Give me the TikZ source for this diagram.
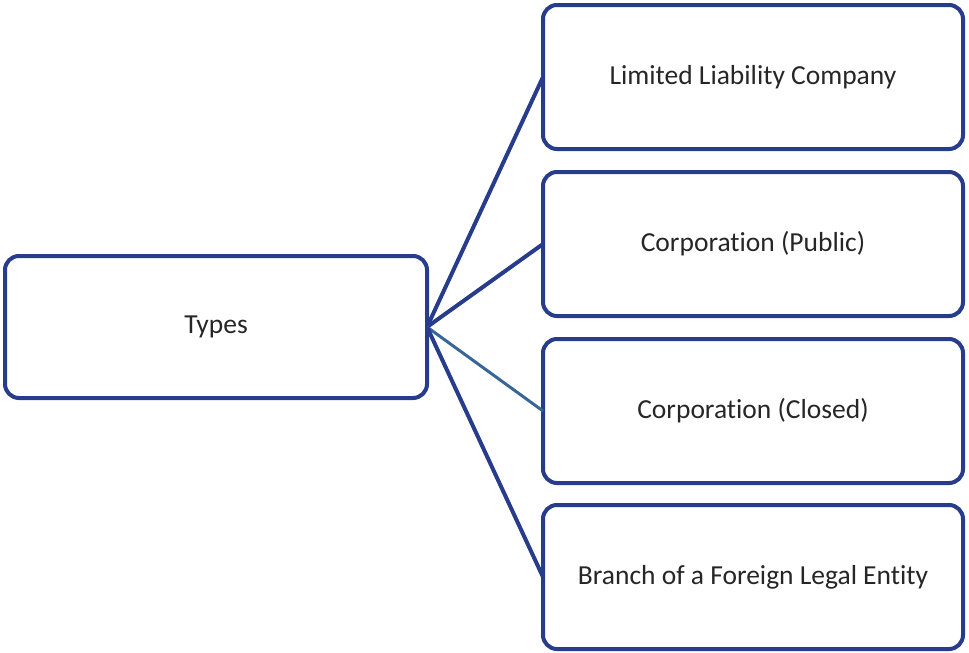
\documentclass[tikz,border=0pt]{standalone}
\usepackage{fontspec}
\setmainfont[Ligatures={NoCommon}]{Carlito}
\definecolor{navy}{RGB}{40,60,140}
\definecolor{steel}{RGB}{56,102,150}
\definecolor{txt}{RGB}{38,38,38}
\begin{document}
\begin{tikzpicture}[x=1pt,y=-1pt,
  box/.style={draw=navy, line width=4pt, rounded corners=14pt, outer sep=0pt,
    minimum width=420pt, minimum height=144pt, inner sep=0pt, text=txt,
    font=\fontsize{27.5}{33}\selectfont, fill=white},
  link/.style={draw=navy, line width=4pt}]
\useasboundingbox (0,0) rectangle (969,653);
\node[box, minimum width=422pt, minimum height=142pt] (types) at (216,327) {Types};
\node[box] (llc) at (753,77) {Limited Liability Company};
\node[box] (pub) at (753,244) {Corporation (Public)};
\node[box] (clo) at (753,411) {Corporation (Closed)};
\node[box] (br) at (753,577) {Branch of a Foreign Legal Entity};
\draw[link] (types.east) -- (llc.west);
\draw[link] (types.east) -- (pub.west);
\draw[link, draw=steel, line width=3pt] (types.east) -- (clo.west);
\draw[link] (types.east) -- (br.west);
\end{tikzpicture}
\end{document}
